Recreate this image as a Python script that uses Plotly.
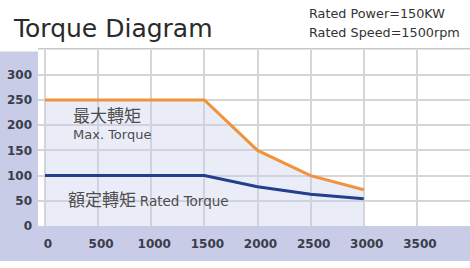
import plotly.graph_objects as go

# Data
speed = [0, 1500, 2000, 2500, 3000]
max_torque = [250, 250, 150, 100, 72]
rated_torque = [100, 100, 78, 63, 54]
x_ticks = [0, 500, 1000, 1500, 2000, 2500, 3000, 3500]
y_ticks = [0, 50, 100, 150, 200, 250, 300, 350]
y_ticktext = ["0", "50", "100", "150", "200", "250", "300", ""]

W, H = 470, 268
LAV = "#c8cce7"

fig = go.Figure()
fig.add_trace(go.Scatter(
    x=speed, y=max_torque, mode="lines", fill="tozeroy",
    fillcolor="rgba(200,206,235,0.38)",
    line=dict(color="#f0933a", width=3), hoverinfo="skip", showlegend=False))
fig.add_trace(go.Scatter(
    x=speed, y=rated_torque, mode="lines",
    line=dict(color="#233f8c", width=3), hoverinfo="skip", showlegend=False))

left_px, right_px, top_px, bottom_px = 38, 470, 51, 232
fig.update_layout(
    width=W, height=H, margin=dict(l=0, r=0, t=0, b=0),
    paper_bgcolor="white", plot_bgcolor="white",
    xaxis=dict(domain=[left_px / W, right_px / W], range=[-66, 4000],
               tickvals=x_ticks, showgrid=True, gridcolor="#d6d6d6", gridwidth=1.5,
               zeroline=False, showline=False, ticks="",
               tickfont=dict(family="DejaVu Sans", size=12, color="#3a3d4a", weight="bold"),
               ticklabelstandoff=9, ticklabelshift=3, fixedrange=True),
    yaxis=dict(domain=[(H - bottom_px) / H, (H - top_px) / H], range=[0, 350],
               tickvals=y_ticks, ticktext=y_ticktext, showgrid=True,
               gridcolor="#d6d6d6", gridwidth=1.5, zeroline=False, showline=False,
               ticks="", tickfont=dict(family="DejaVu Sans", size=12, color="#3a3d4a", weight="bold"),
               ticklabelstandoff=5, fixedrange=True),
    shapes=[
        dict(type="rect", xref="paper", yref="paper", x0=0, x1=left_px / W,
             y0=0, y1=(H - 53) / H, fillcolor=LAV, line_width=0, layer="below"),
        dict(type="rect", xref="paper", yref="paper", x0=0, x1=1,
             y0=0, y1=(H - bottom_px) / H, fillcolor=LAV, line_width=0, layer="below"),
        dict(type="line", xref="paper", yref="paper", x0=left_px / W, x1=1,
             y0=(H - 50) / H, y1=(H - 50) / H, line=dict(color="#c8c8c8", width=1.5)),
    ],
    annotations=[
        dict(text="Torque Diagram", xref="paper", yref="paper", x=11 / W, y=(H - 29) / H,
             xanchor="left", yanchor="middle", showarrow=False,
             font=dict(family="DejaVu Sans", size=25, color="#2a2a2a")),
        dict(text="Rated Power=150KW", xref="paper", yref="paper", x=307 / W, y=(H - 14) / H,
             xanchor="left", yanchor="middle", showarrow=False,
             font=dict(family="DejaVu Sans", size=12.8, color="#333333")),
        dict(text="Rated Speed=1500rpm", xref="paper", yref="paper", x=307 / W, y=(H - 33) / H,
             xanchor="left", yanchor="middle", showarrow=False,
             font=dict(family="DejaVu Sans", size=12.8, color="#333333")),
        dict(text="最大轉矩", x=245, y=222, xanchor="left", yanchor="middle", showarrow=False,
             font=dict(family="Noto Sans CJK TC", size=17, color="#4d4d4d")),
        dict(text="Max. Torque", x=245, y=181, xanchor="left", yanchor="middle", showarrow=False,
             font=dict(family="DejaVu Sans", size=13, color="#4d4d4d")),
        dict(text="額定轉矩 <span style='font-family:DejaVu Sans;font-size:13.5px'>Rated Torque</span>",
             x=200, y=55, xanchor="left", yanchor="middle", showarrow=False,
             font=dict(family="Noto Sans CJK TC", size=17, color="#4d4d4d")),
    ],
)
fig.write_html("out.html", config={"displayModeBar": False},
               post_script="document.body.style.margin='0';")
